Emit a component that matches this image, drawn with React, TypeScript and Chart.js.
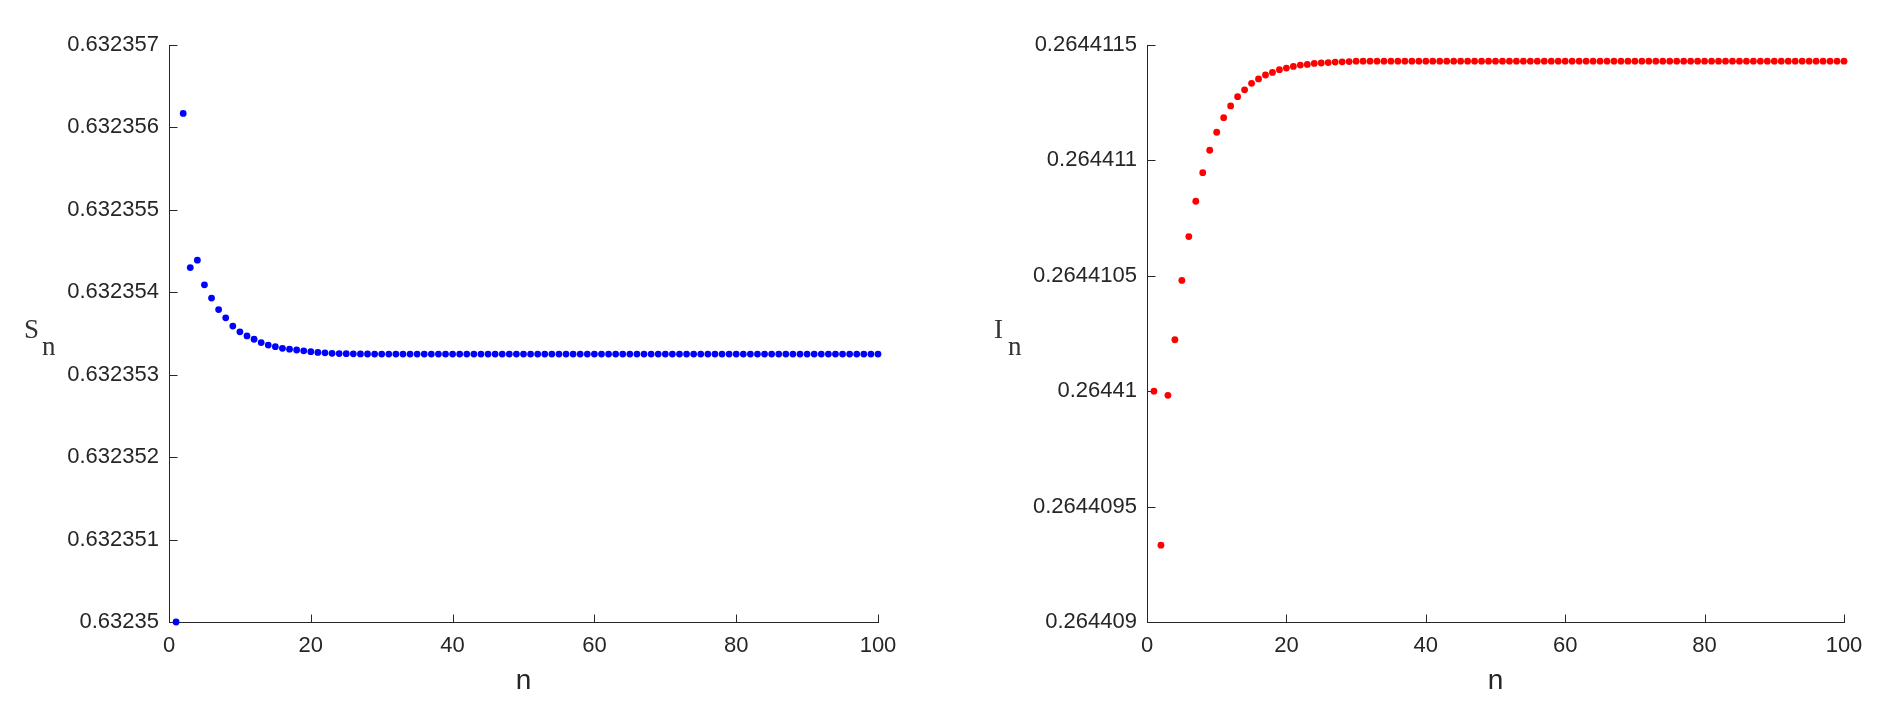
import React, { useEffect, useRef } from "react";
import { Chart, registerables } from "chart.js";

Chart.register(...registerables);

// ---------- data ----------
const N = [
  1, 2, 3, 4, 5, 6, 7, 8, 9, 10, 11, 12, 13, 14, 15, 16, 17, 18, 19, 20,
  21, 22, 23, 24, 25, 26, 27, 28, 29, 30, 31, 32, 33, 34, 35, 36, 37, 38, 39, 40,
  41, 42, 43, 44, 45, 46, 47, 48, 49, 50, 51, 52, 53, 54, 55, 56, 57, 58, 59, 60,
  61, 62, 63, 64, 65, 66, 67, 68, 69, 70, 71, 72, 73, 74, 75, 76, 77, 78, 79, 80,
  81, 82, 83, 84, 85, 86, 87, 88, 89, 90, 91, 92, 93, 94, 95, 96, 97, 98, 99, 100,
];

const S_VALUES = [
  0.63235, 0.63235617, 0.6323543, 0.63235439, 0.63235409, 0.63235393, 0.63235379, 0.63235369, 0.63235359, 0.63235352,
  0.63235347, 0.63235343, 0.63235339, 0.63235336, 0.63235334, 0.63235332, 0.63235331, 0.6323533, 0.63235329, 0.63235328,
  0.63235327, 0.632353265, 0.63235326, 0.632353257, 0.632353255, 0.632353253, 0.632353252, 0.632353251, 0.63235325, 0.63235325,
  0.63235325, 0.63235325, 0.63235325, 0.63235325, 0.63235325, 0.63235325, 0.63235325, 0.63235325, 0.63235325, 0.63235325,
  0.63235325, 0.63235325, 0.63235325, 0.63235325, 0.63235325, 0.63235325, 0.63235325, 0.63235325, 0.63235325, 0.63235325,
  0.63235325, 0.63235325, 0.63235325, 0.63235325, 0.63235325, 0.63235325, 0.63235325, 0.63235325, 0.63235325, 0.63235325,
  0.63235325, 0.63235325, 0.63235325, 0.63235325, 0.63235325, 0.63235325, 0.63235325, 0.63235325, 0.63235325, 0.63235325,
  0.63235325, 0.63235325, 0.63235325, 0.63235325, 0.63235325, 0.63235325, 0.63235325, 0.63235325, 0.63235325, 0.63235325,
  0.63235325, 0.63235325, 0.63235325, 0.63235325, 0.63235325, 0.63235325, 0.63235325, 0.63235325, 0.63235325, 0.63235325,
  0.63235325, 0.63235325, 0.63235325, 0.63235325, 0.63235325, 0.63235325, 0.63235325, 0.63235325, 0.63235325, 0.63235325,
];

const I_VALUES = [
  0.26441, 0.264409333, 0.264409982, 0.264410223, 0.26441048, 0.26441067, 0.264410823, 0.264410947, 0.264411044, 0.264411122,
  0.264411185, 0.264411236, 0.264411276, 0.264411306, 0.264411334, 0.264411353, 0.26441137, 0.264411381, 0.264411393, 0.2644114,
  0.264411407, 0.264411413, 0.264411416, 0.26441142, 0.264411422, 0.264411424, 0.264411426, 0.264411427, 0.264411428, 0.26441143,
  0.26441143, 0.26441143, 0.26441143, 0.26441143, 0.26441143, 0.26441143, 0.26441143, 0.26441143, 0.26441143, 0.26441143,
  0.26441143, 0.26441143, 0.26441143, 0.26441143, 0.26441143, 0.26441143, 0.26441143, 0.26441143, 0.26441143, 0.26441143,
  0.26441143, 0.26441143, 0.26441143, 0.26441143, 0.26441143, 0.26441143, 0.26441143, 0.26441143, 0.26441143, 0.26441143,
  0.26441143, 0.26441143, 0.26441143, 0.26441143, 0.26441143, 0.26441143, 0.26441143, 0.26441143, 0.26441143, 0.26441143,
  0.26441143, 0.26441143, 0.26441143, 0.26441143, 0.26441143, 0.26441143, 0.26441143, 0.26441143, 0.26441143, 0.26441143,
  0.26441143, 0.26441143, 0.26441143, 0.26441143, 0.26441143, 0.26441143, 0.26441143, 0.26441143, 0.26441143, 0.26441143,
  0.26441143, 0.26441143, 0.26441143, 0.26441143, 0.26441143, 0.26441143, 0.26441143, 0.26441143, 0.26441143, 0.26441143,
];

const X_TICKS = [0, 20, 40, 60, 80, 100];
const X_TICK_LABELS = ["0", "20", "40", "60", "80", "100"];

const S_TICKS = [0.63235, 0.632351, 0.632352, 0.632353, 0.632354, 0.632355, 0.632356, 0.632357];
const S_TICK_LABELS = ["0.63235", "0.632351", "0.632352", "0.632353", "0.632354", "0.632355", "0.632356", "0.632357"];

const I_TICKS = [0.264409, 0.2644095, 0.26441, 0.2644105, 0.264411, 0.2644115];
const I_TICK_LABELS = ["0.264409", "0.2644095", "0.26441", "0.2644105", "0.264411", "0.2644115"];

const X_LABEL = "n";

// ---------- styling ----------
const AXIS_COLOR = "#262626";
const SYMBOL_COLOR = "#333333";
const TICK_FONT = { family: "Liberation Sans, Arial, sans-serif", size: 22 };
const TITLE_FONT = { family: "Liberation Sans, Arial, sans-serif", size: 28 };
const SYMBOL_FONT = "27px 'Liberation Serif', 'DejaVu Serif', serif";

const CANVAS_W = 942;
const CANVAS_H = 710;

interface Geometry {
  yWidth: number;
  padRight: number;
  symbolX: number;
  subX: number;
}

const innerTicksPlugin = {
  id: "innerTicks",
  beforeDatasetsDraw(chart: any) {
    const { ctx, chartArea } = chart;
    const xs = chart.scales.x;
    const ys = chart.scales.y;
    ctx.save();
    ctx.strokeStyle = AXIS_COLOR;
    ctx.lineWidth = 1;
    ctx.beginPath();
    for (const t of xs.ticks) {
      const px = Math.round(xs.getPixelForValue(t.value)) + 0.5;
      ctx.moveTo(px, chartArea.bottom + 0.5);
      ctx.lineTo(px, chartArea.bottom - 7.5);
    }
    for (const t of ys.ticks) {
      const py = Math.round(ys.getPixelForValue(t.value)) + 0.5;
      ctx.moveTo(chartArea.left, py);
      ctx.lineTo(chartArea.left + 8.5, py);
    }
    ctx.stroke();
    ctx.restore();
  },
};

function makeSymbolPlugin(symbol: string, geo: Geometry) {
  return {
    id: "symbolLabel",
    afterDraw(chart: any) {
      const { ctx } = chart;
      ctx.save();
      ctx.fillStyle = SYMBOL_COLOR;
      ctx.font = SYMBOL_FONT;
      ctx.textAlign = "left";
      ctx.textBaseline = "alphabetic";
      ctx.fillText(symbol, geo.symbolX, 338);
      ctx.fillText("n", geo.subX, 355);
      ctx.restore();
    },
  };
}

function PlotPanel(props: {
  values: number[];
  color: string;
  yTicks: number[];
  yTickLabels: string[];
  symbol: string;
  geo: Geometry;
}) {
  const ref = useRef<HTMLCanvasElement | null>(null);
  useEffect(() => {
    if (!ref.current) return;
    const { values, color, yTicks, yTickLabels, symbol, geo } = props;
    const points = N.map((n, i) => ({ x: n, y: values[i] }));
    const chart = new Chart(ref.current, {
      type: "scatter",
      data: {
        datasets: [
          {
            data: points,
            backgroundColor: color,
            borderColor: color,
            borderWidth: 0,
            pointRadius: 3.4,
            pointHoverRadius: 3.4,
            showLine: false,
            clip: false,
          } as any,
        ],
      },
      options: {
        animation: false,
        responsive: false,
        devicePixelRatio: 1,
        events: [],
        layout: { padding: { left: 0, right: geo.padRight, top: 45, bottom: 0 } },
        plugins: { legend: { display: false }, tooltip: { enabled: false }, title: { display: false } },
        scales: {
          x: {
            type: "linear",
            min: X_TICKS[0],
            max: X_TICKS[X_TICKS.length - 1],
            afterBuildTicks: (scale: any) => {
              scale.ticks = X_TICKS.map((v) => ({ value: v }));
            },
            afterFit: (scale: any) => {
              scale.height = 88;
            },
            grid: { display: false, drawTicks: false },
            border: { display: true, color: AXIS_COLOR, width: 1 },
            ticks: {
              autoSkip: false,
              maxRotation: 0,
              padding: 11,
              color: AXIS_COLOR,
              font: TICK_FONT,
              callback: (_v: any, i: number) => X_TICK_LABELS[i],
            },
            title: {
              display: true,
              text: X_LABEL,
              color: AXIS_COLOR,
              font: TITLE_FONT,
              padding: { top: 0, bottom: 12 },
            },
          },
          y: {
            type: "linear",
            min: yTicks[0],
            max: yTicks[yTicks.length - 1],
            afterBuildTicks: (scale: any) => {
              scale.ticks = yTicks.map((v) => ({ value: v }));
            },
            afterFit: (scale: any) => {
              scale.width = geo.yWidth;
            },
            grid: { display: false, drawTicks: false },
            border: { display: true, color: AXIS_COLOR, width: 1 },
            ticks: {
              autoSkip: false,
              padding: 10,
              color: AXIS_COLOR,
              font: TICK_FONT,
              callback: (_v: any, i: number) => yTickLabels[i],
            },
          },
        },
      } as any,
      plugins: [innerTicksPlugin, makeSymbolPlugin(symbol, geo)],
    });
    return () => chart.destroy();
  }, []);
  return (
    <canvas
      ref={ref}
      width={CANVAS_W}
      height={CANVAS_H}
      style={{ display: "block", width: CANVAS_W, height: CANVAS_H }}
    />
  );
}

export default function App() {
  return (
    <div
      style={{
        position: "absolute",
        left: 0,
        top: 0,
        width: 1884,
        height: 710,
        background: "#ffffff",
        overflow: "hidden",
      }}
    >
      <div style={{ position: "absolute", left: 0, top: 0 }}>
        <PlotPanel
          values={S_VALUES}
          color="#0000ff"
          yTicks={S_TICKS}
          yTickLabels={S_TICK_LABELS}
          symbol="S"
          geo={{ yWidth: 169, padRight: 64, symbolX: 24, subX: 42 }}
        />
      </div>
      <div style={{ position: "absolute", left: 942, top: 0 }}>
        <PlotPanel
          values={I_VALUES}
          color="#ff0000"
          yTicks={I_TICKS}
          yTickLabels={I_TICK_LABELS}
          symbol="I"
          geo={{ yWidth: 205, padRight: 40, symbolX: 52, subX: 66 }}
        />
      </div>
    </div>
  );
}
